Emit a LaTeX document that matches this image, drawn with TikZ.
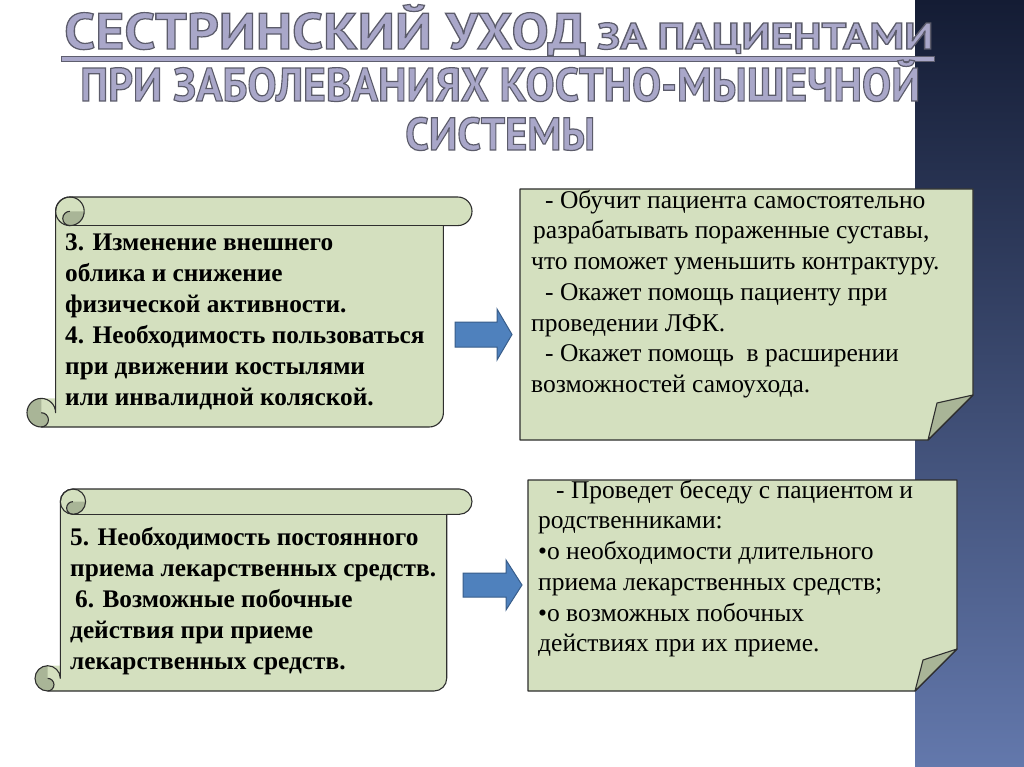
\documentclass[tikz,border=0pt]{standalone}
\usepackage{fontspec}
\usepackage{graphicx}
\setmainfont{Liberation Serif}
\newfontfamily\titlefont{PT Sans}
\definecolor{boxfill}{HTML}{D4E0BF}
\definecolor{folddark}{HTML}{A9B597}
\definecolor{edgecol}{HTML}{2E2E2E}
\definecolor{arrowfill}{HTML}{4F81BD}
\definecolor{arrowedge}{HTML}{385D8A}
\definecolor{bandtop}{HTML}{141C34}
\definecolor{bandbot}{HTML}{6378AC}
\definecolor{titlefill}{HTML}{A9A7C9}
\definecolor{titleedge}{HTML}{5E5E6E}
\newcommand\outl[1]{\special{pdf:literal direct 2 Tr 1.2 w 0.36 0.36 0.42 RG}#1\special{pdf:literal direct 0 Tr}}
\newcommand\drawscroll[5]{%
  \pgfmathsetmacro\scL{#1}\pgfmathsetmacro\scT{#2}%
  \pgfmathsetmacro\scR{#3}\pgfmathsetmacro\scB{#4}%
  \pgfmathsetmacro\scH{#5}\pgfmathsetmacro\scHh{#5/2}\pgfmathsetmacro\scHq{#5/4}%
  \fill[boxfill] (\scR,\scT+\scHh) arc[start angle=0,delta angle=90,radius=\scHh]
    -- (\scR-\scH,\scT+\scH) -- (\scR-\scH,\scB-\scHh)
    arc[start angle=0,delta angle=90,radius=\scHh]
    -- (\scL+\scHh,\scB)
    arc[start angle=90,delta angle=180,radius=\scHh]
    -- (\scL+\scH,\scB-\scH) -- (\scL+\scH,\scT+\scHh)
    arc[start angle=180,delta angle=90,radius=\scHh]
    -- (\scR-\scHh,\scT)
    arc[start angle=270,delta angle=90,radius=\scHh] -- cycle;
  \fill[folddark] (\scL+2*\scH,\scT+\scHh) arc[start angle=0,delta angle=90,radius=\scHh]
    arc[start angle=90,delta angle=180,radius=\scHq] -- cycle;
  \fill[folddark] (\scL+\scHh,\scB-\scHh) arc[start angle=270,delta angle=180,radius=\scHq]
    arc[start angle=90,delta angle=180,radius=\scHh] -- cycle;
  \draw[scrolledge] (\scL+\scH,\scB-\scHh) -- (\scL+\scH,\scT+\scHh)
    arc[start angle=180,delta angle=90,radius=\scHh] -- (\scR-\scHh,\scT)
    arc[start angle=270,delta angle=180,radius=\scHh] -- (\scR-\scH,\scT+\scH)
    -- (\scR-\scH,\scB-\scHh) arc[start angle=0,delta angle=90,radius=\scHh]
    -- (\scL+\scHh,\scB) arc[start angle=90,delta angle=270,radius=\scHh] -- cycle;
  \draw[scrolledge] (\scL+\scH+\scHh,\scT+\scHh) circle[radius=\scHh];
  \draw[scrolledge] (\scL+\scH+\scHh,\scT+\scHh) arc[start angle=270,delta angle=-180,radius=\scHq];
  \draw[scrolledge] (\scL+\scH+\scHh,\scT+\scH) -- (\scR-\scHh,\scT+\scH);
  \draw[scrolledge] (\scL+\scHh,\scB-\scHh) arc[start angle=270,delta angle=180,radius=\scHq];
}
\begin{document}
\begin{tikzpicture}[x=1pt,y=-1pt,
  scrolledge/.style={draw=edgecol,line width=1.1pt,line join=round},
  notebox/.style={fill=boxfill,draw=edgecol,line width=1.1pt,line join=round},
  foldtri/.style={fill=folddark,draw=edgecol,line width=1.1pt,line join=round},
  bluearrow/.style={fill=arrowfill,draw=arrowedge,line width=1pt,line join=miter},
  boldtext/.style={anchor=north west,inner sep=0pt,align=left,text=black,
    font=\fontsize{25.3}{31}\selectfont\bfseries},
  plaintext/.style={anchor=north west,inner sep=0pt,align=left,text=black,
    font=\fontsize{25.5}{30.7}\selectfont},
  titletext/.style={anchor=base west,inner sep=0pt,text=titlefill}]
\useasboundingbox (0,0) rectangle (1024,767);
\fill[white] (0,0) rectangle (1024,767);
\shade[top color=bandtop,bottom color=bandbot] (915,0) rectangle (1024,767);

% title
\node[titletext] (t1a) at (64,49) {\resizebox{522pt}{\height}{\titlefont\bfseries\fontsize{51}{51}\selectfont\outl{СЕСТРИНСКИЙ УХОД}}};
\node[titletext] (t1b) at (597,49) {\resizebox{336pt}{\height}{\titlefont\bfseries\fontsize{37}{37}\selectfont\outl{ЗА ПАЦИЕНТАМИ}}};
\fill[titlefill,draw=titleedge,line width=0.8pt] (61,56) rectangle (934,61);
\node[titletext] (t2) at (80,101) {\resizebox{840pt}{\height}{\titlefont\bfseries\fontsize{47}{47}\selectfont\outl{ПРИ ЗАБОЛЕВАНИЯХ КОСТНО-МЫШЕЧНОЙ}}};
\node[titletext] (t3) at (405,150) {\resizebox{190pt}{\height}{\titlefont\bfseries\fontsize{46}{46}\selectfont\outl{СИСТЕМЫ}}};

% scrolls
\drawscroll{27}{197}{472}{427}{28.6}
\drawscroll{35}{489}{472}{691}{25.3}

% note boxes
\path[notebox] (520,189) -- (973,189) -- (973,395) -- (928,440) -- (520,440) -- cycle;
\path[foldtri] (973,395) -- (937,403) -- (928,440) -- cycle;
\path[notebox] (528,480) -- (957,480) -- (957,649) -- (915,691) -- (528,691) -- cycle;
\path[foldtri] (957,649) -- (923,660) -- (915,691) -- cycle;

% arrows
\path[bluearrow] (455,322) -- (497,322) -- (497,309) -- (512,334.5) -- (497,360) -- (497,347) -- (455,347) -- cycle;
\path[bluearrow] (463,573) -- (506,573) -- (506,560) -- (522,585) -- (506,610) -- (506,597) -- (463,597) -- cycle;

% texts
\node[boldtext] (s1) at (65,226) {\rule{0pt}{24pt}3. Изменение внешнего\\облика и снижение\\физической активности.\\4. Необходимость пользоваться\\при движении костылями\\или инвалидной коляской.};
\node[plaintext] (r1) at (531,184) {\rule{0pt}{24pt}\hspace*{14pt}- Обучит пациента самостоятельно\\\hspace*{2pt}разрабатывать пораженные суставы,\\что поможет уменьшить контрактуру.\\\hspace*{14pt}- Окажет помощь пациенту при\\проведении ЛФК.\\\hspace*{14pt}- Окажет помощь\ \ в расширении\\возможностей самоухода.};
\node[boldtext] (s2) at (70,521) {\rule{0pt}{24pt}5. Необходимость постоянного\\приема лекарственных средств.\\\hspace*{5pt}6. Возможные побочные\\действия при приеме\\лекарственных средств.};
\node[plaintext] (r2) at (538,474) {\rule{0pt}{24pt}\hspace*{18pt}- Проведет беседу с пациентом и\\родственниками:\\•о необходимости длительного\\приема лекарственных средств;\\•о возможных побочных\\действиях при их приеме.};
\end{tikzpicture}
\end{document}
